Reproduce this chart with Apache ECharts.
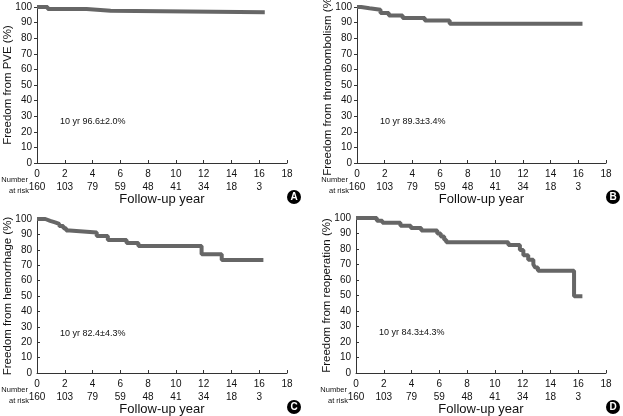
<!DOCTYPE html>
<html><head><meta charset="utf-8">
<script src="https://cdn.jsdelivr.net/npm/echarts@6/dist/echarts.min.js"></script>
<style>html,body{margin:0;padding:0;background:#fff}#c{width:623px;height:416px}</style>
</head><body><div id="c"></div>
<script>
// ---- data ----
const xTicks = [0, 2, 4, 6, 8, 10, 12, 14, 16, 18];
const numberAtRisk = [160, 103, 79, 59, 48, 41, 34, 18, 3];

const pveTimes = [0, 0.77, 3.57, 5.3, 16.4];
const pveSurv  = [100, 98.7, 97.6, 96.6, 96.6];

const thromboTimes = [0, 0.3, 0.9, 1.7, 2.3, 3.3, 4.9, 6.7, 16.3];
const thromboSurv  = [100, 99.2, 98.3, 96.2, 94.6, 93.0, 91.3, 89.3, 89.3];

const hemoTimes = [0, 0.6, 0.95, 1.3, 1.6, 1.9, 2.1, 2.35, 4.3, 5.1, 6.45, 7.3, 11.85, 13.3, 16.3];
const hemoSurv  = [100, 98.8, 97.8, 96.8, 95.5, 94.0, 92.5, 91.3, 89.0, 86.4, 84.4, 82.4, 77.1, 73.4, 73.4];

const reopTimes = [0, 1.5, 1.9, 3.2, 3.95, 4.7, 5.85, 6.1, 6.35, 6.5, 10.97, 11.8, 12.05, 12.4, 12.77, 12.9, 13.1, 15.7, 16.3];
const reopSurv  = [100, 98.3, 97.0, 95.0, 93.5, 92.0, 90.0, 88.0, 86.0, 84.3, 82.6, 79.4, 76.0, 73.0, 70.0, 68.0, 66.0, 49.5, 49.5];

const yTitles = ['Freedom from PVE (%)', 'Freedom from thrombombolism (%)', 'Freedom from hemorrhage (%)', 'Freedom from reoperation (%)'];
const annotations = ['10 yr 96.6\u00b12.0%', '10 yr 89.3\u00b13.4%', '10 yr 82.4\u00b14.3%', '10 yr 84.3\u00b14.3%'];
const panelLetters = ['A', 'B', 'C', 'D'];
const xTitle = 'Follow-up year';

// ---- layout ----
const grids = [
  {left: 37, top: 7, width: 250, height: 156},
  {left: 357, top: 7, width: 249, height: 156},
  {left: 37, top: 219, width: 250, height: 154},
  {left: 356, top: 218, width: 250, height: 155}
];
const tickInside = [false, false, true, true];
const seriesData = [
  [pveTimes, pveSurv], [thromboTimes, thromboSurv], [hemoTimes, hemoSurv], [reopTimes, reopSurv]
];
const FONT = '"Liberation Sans", Arial, sans-serif';

const option = {
  animation: false,
  backgroundColor: '#fff',
  grid: grids.map(g => Object.assign({containLabel: false, outerBoundsMode: 'none'}, g)),
  xAxis: grids.map((g, i) => ({
    gridIndex: i, type: 'value', min: 0, max: 18, interval: 2,
    name: xTitle, nameLocation: 'middle', nameGap: 29,
    nameTextStyle: {fontFamily: FONT, fontSize: 13, color: '#111'},
    axisLine: {lineStyle: {color: '#333', width: 1}},
    axisTick: {inside: true, length: 3, lineStyle: {color: '#333'}},
    splitLine: {show: false},
    axisLabel: {
      margin: 5, fontFamily: FONT, color: '#111',
      formatter: function (v) {
        const k = Math.round(v / 2);
        const r = numberAtRisk[k] !== undefined ? numberAtRisk[k] : ' ';
        return '{t|' + v + '}\n{r|' + r + '}';
      },
      rich: {
        t: {fontFamily: FONT, fontSize: 10, color: '#111', lineHeight: 13},
        r: {fontFamily: FONT, fontSize: 10, color: '#111', lineHeight: 13}
      }
    }
  })),
  yAxis: grids.map((g, i) => ({
    gridIndex: i, type: 'value', min: 0, max: 100, interval: 10,
    axisLine: {show: true, lineStyle: {color: '#333', width: 1}},
    axisTick: {show: true, inside: tickInside[i], length: 3, lineStyle: {color: '#333'}},
    splitLine: {show: false},
    axisLabel: {margin: 5, fontFamily: FONT, fontSize: 10, color: '#111'}
  })),
  series: seriesData.map((d, i) => ({
    type: 'line', xAxisIndex: i, yAxisIndex: i, step: 'end', symbol: 'none',
    lineStyle: {color: '#666', width: 4},
    data: d[0].map((t, j) => [t, d[1][j]])
  })),
  graphic: []
};

grids.forEach((g, i) => {
  const axisY = g.top + g.height;
  option.graphic.push({type: 'text', x: g.left - 29, y: g.top + g.height / 2, rotation: Math.PI / 2,
    style: {text: yTitles[i], font: '11.5px ' + FONT, fill: '#111', textAlign: 'center', textVerticalAlign: 'middle'}});
  option.graphic.push({type: 'text', x: g.left - 9, y: axisY + 17,
    style: {text: 'Number', font: '7.5px ' + FONT, fill: '#111', textAlign: 'right', textVerticalAlign: 'middle'}});
  option.graphic.push({type: 'text', x: g.left - 8, y: axisY + 28,
    style: {text: 'at risk', font: '7.5px ' + FONT, fill: '#111', textAlign: 'right', textVerticalAlign: 'middle'}});
  option.graphic.push({type: 'text', x: g.left + 23, y: g.top + 115,
    style: {text: annotations[i], font: '9px ' + FONT, fill: '#111', textAlign: 'left', textVerticalAlign: 'middle'}});
  const cx = g.left + g.width + 7, cy = axisY + 34;
  option.graphic.push({type: 'circle', shape: {cx: cx, cy: cy, r: 7}, style: {fill: '#000'}});
  option.graphic.push({type: 'text', x: cx, y: cy + 0.5,
    style: {text: panelLetters[i], font: 'bold 10px ' + FONT, fill: '#fff', textAlign: 'center', textVerticalAlign: 'middle'}});
});

const chart = echarts.init(document.getElementById('c'), null, {renderer: 'canvas'});
chart.setOption(option);
</script></body></html>
